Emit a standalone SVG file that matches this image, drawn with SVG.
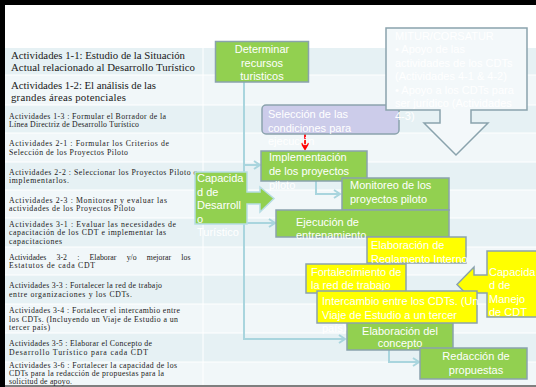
<svg xmlns="http://www.w3.org/2000/svg" width="536" height="387" viewBox="0 0 536 387">
<defs>
<style>
.tl{font-family:"Liberation Serif","DejaVu Serif",serif;fill:#1a1a1a}
.big{font-size:10.8px}
.sm{font-size:7.8px}
.bt{font-family:"Liberation Sans",Arial,sans-serif;font-size:11px;fill:#ffffff}
.mid{text-anchor:middle}
.g{fill:#92d050;stroke:#8aa3ad;stroke-width:1.5}
.y{fill:#ffff00;stroke:#8aa3ad;stroke-width:1.5}
.con{fill:none;stroke:#a9d5de;stroke-width:2}
.teal{fill:#e6f1f4}
.light{fill:#f1f7f9}
.sep{stroke:#ffffff;stroke-width:1}
</style>
<marker id="arr" markerWidth="10" markerHeight="10" refX="8" refY="5" orient="auto" markerUnits="userSpaceOnUse">
<path d="M2,1 L8,5 L2,9" fill="none" stroke="#a9d5de" stroke-width="2"/>
</marker>
<marker id="redarr" markerWidth="10" markerHeight="10" refX="8" refY="5" orient="auto" markerUnits="userSpaceOnUse">
<path d="M2,1.5 L8,5 L2,8.5" fill="none" stroke="#ff0000" stroke-width="1.8"/>
</marker>
</defs>

<rect x="0" y="0" width="536" height="387" fill="#ffffff"/>

<g id="table">
<rect x="5" y="48" width="531" height="27" class="teal"/>
<rect x="5" y="75" width="531" height="30" class="light"/>
<rect x="5" y="105" width="531" height="28" class="teal"/>
<rect x="5" y="133" width="531" height="29" class="light"/>
<rect x="5" y="162" width="531" height="28" class="teal"/>
<rect x="5" y="190" width="531" height="28" class="light"/>
<rect x="5" y="218" width="531" height="29" class="teal"/>
<rect x="5" y="247" width="531" height="28" class="light"/>
<rect x="5" y="275" width="531" height="29" class="teal"/>
<rect x="5" y="304" width="531" height="29" class="light"/>
<rect x="5" y="333" width="531" height="29" class="teal"/>
<rect x="5" y="362" width="531" height="24" class="light"/>
<g class="sep">
<line x1="5" y1="75" x2="536" y2="75"/>
<line x1="5" y1="105" x2="536" y2="105"/>
<line x1="5" y1="133" x2="536" y2="133"/>
<line x1="5" y1="162" x2="536" y2="162"/>
<line x1="5" y1="190" x2="536" y2="190"/>
<line x1="5" y1="218" x2="536" y2="218"/>
<line x1="5" y1="247" x2="536" y2="247"/>
<line x1="5" y1="275" x2="536" y2="275"/>
<line x1="5" y1="304" x2="536" y2="304"/>
<line x1="5" y1="333" x2="536" y2="333"/>
<line x1="5" y1="362" x2="536" y2="362"/>
<line x1="203" y1="48" x2="203" y2="386"/>
</g>
<rect x="5" y="385" width="531" height="2" fill="#7f7f7f"/>

<text class="tl big" x="11" y="59" textLength="174">Actividades 1-1: Estudio de la Situación</text>
<text class="tl big" x="11" y="71" textLength="184">Actual relacionado al Desarrollo Turístico</text>
<text class="tl big" x="11" y="89" textLength="145">Actividades 1-2: El análisis de las</text>
<text class="tl big" x="11" y="101" textLength="115">grandes áreas potenciales</text>
<text class="tl sm" x="9" y="118.5" textLength="157">Actividades 1-3 : Formular el Borrador de la</text>
<text class="tl sm" x="9" y="127" textLength="130">Línea Directriz de Desarrollo Turístico</text>
<text class="tl sm" x="9" y="146" textLength="160">Actividades 2-1 : Formular los Criterios de</text>
<text class="tl sm" x="9" y="154.5" textLength="119">Selección de los Proyectos Piloto</text>
<text class="tl sm" x="9" y="174.5" textLength="188">Actividades 2-2 : Seleccionar los Proyectos Piloto e</text>
<text class="tl sm" x="9" y="183" textLength="60">implementarlos.</text>
<text class="tl sm" x="9" y="202.5" textLength="158">Actividades 2-3 : Monitorear y evaluar las</text>
<text class="tl sm" x="9" y="211" textLength="126">actividades de los Proyectos Piloto</text>
<text class="tl sm" x="9" y="227" textLength="167">Actividades 3-1 : Evaluar las necesidades de</text>
<text class="tl sm" x="9" y="235" textLength="157">capacitación de los CDT e implementar las</text>
<text class="tl sm" x="9" y="243.5" textLength="53">capacitaciones</text>
<text class="tl sm" x="9" y="259.5" word-spacing="8.3">Actividades 3-2 : Elaborar y/o mejorar los</text>
<text class="tl sm" x="9" y="268" textLength="86">Estatutos de cada CDT</text>
<text class="tl sm" x="9" y="288" textLength="153">Actividades 3-3 : Fortalecer la red de trabajo</text>
<text class="tl sm" x="9" y="296.5" textLength="123">entre organizaciones y los CDTs.</text>
<text class="tl sm" x="9" y="313" textLength="171">Actividades 3-4 : Fortalecer el intercambio entre</text>
<text class="tl sm" x="9" y="321.5" textLength="169">los CDTs. (Incluyendo un Viaje de Estudio a un</text>
<text class="tl sm" x="9" y="330" textLength="41">tercer país)</text>
<text class="tl sm" x="9" y="346" textLength="143">Actividades 3-5 : Elaborar el Concepto de</text>
<text class="tl sm" x="9" y="354.5" textLength="139">Desarrollo Turístico para cada CDT</text>
<text class="tl sm" x="9" y="368" textLength="168">Actividades 3-6 : Fortalecer la capacidad de los</text>
<text class="tl sm" x="9" y="376" textLength="155">CDTs para la redacción de propuestas para la</text>
<text class="tl sm" x="9" y="384" textLength="63">solicitud de apoyo.</text>
</g>

<rect x="0" y="0" width="536" height="5" fill="#000000"/>
<rect x="0" y="0" width="5" height="387" fill="#000000"/>

<g id="connectors">
<path class="con" d="M244,82 V339 H345" marker-end="url(#arr)"/>
<path class="con" d="M244,165 H260" marker-end="url(#arr)"/>
<path class="con" d="M244,223 H275" marker-end="url(#arr)"/>
<path class="con" d="M316,181 V194 H340" marker-end="url(#arr)"/>
<path class="con" d="M389,350 V362 H419" marker-end="url(#arr)"/>
<path d="M305,134 V149" fill="none" stroke="#ff0000" stroke-width="1.8" marker-end="url(#redarr)"/>
</g>

<g id="determinar">
<rect x="215.5" y="41.5" width="93" height="40.5" class="g"/>
<text class="bt mid" x="262" y="53">Determinar</text>
<text class="bt mid" x="262" y="67">recursos</text>
<text class="bt mid" x="262" y="80">turisticos</text>
</g>

<g id="seleccion">
<rect x="262" y="105" width="137" height="29" rx="4" fill="#ccccea" stroke="#8aa3ad" stroke-width="1.5"/>
<text class="bt" x="268" y="118">Selección de las</text>
<text class="bt" x="268" y="132">condiciones para</text>
<text class="bt" x="268" y="145">ejecución</text>
</g>

<g id="mitur">
<path d="M386,28 H527 V110 H471 V123 H488 L456,155 L424,123 H440 V110 H386 Z" fill="#f3f8fa" stroke="#8aa3ad" stroke-width="1.5"/>
<text class="bt" x="395" y="40">MITUR/CORSATUR</text>
<text class="bt" x="395" y="53.4">• Apoyo de las</text>
<text class="bt" x="395" y="66.8">actividades de los CDTs</text>
<text class="bt" x="395" y="80.2">(Actividades 4-1 &amp; 4-2)</text>
<text class="bt" x="395" y="93.6">• Apoyo a los CDTs para</text>
<text class="bt" x="395" y="107">ser jurídico (Actividades</text>
<text class="bt" x="395" y="120.4">4-3)</text>
</g>

<g id="implementacion">
<rect x="261" y="151" width="106" height="30" class="g"/>
<text class="bt" x="269" y="161">Implementación</text>
<text class="bt" x="269" y="175">de los proyectos</text>
<text class="bt" x="269" y="188.5">piloto</text>
</g>

<g id="monitoreo">
<rect x="342" y="178" width="107" height="32" class="g"/>
<text class="bt" x="350" y="189">Monitoreo de los</text>
<text class="bt" x="350" y="202.5">proyectos piloto</text>
</g>

<g id="ejecucion">
<rect x="276" y="210" width="173" height="27" class="g"/>
<text class="bt" x="296" y="225.5">Ejecución de</text>
<text class="bt" x="296" y="239">entrenamiento</text>
</g>

<g id="capacidad-desarrollo">
<path d="M195,172 H247 V192 H260 V187 L274,198.5 L260,212 V204 H247 V224 H195 Z" fill="#92d050" stroke="#b7dde3" stroke-width="1.5"/>
<text class="bt" x="197" y="182">Capacida</text>
<text class="bt" x="197" y="195.5">d de</text>
<text class="bt" x="197" y="209">Desarroll</text>
<text class="bt" x="197" y="222.5">o</text>
<text class="bt" x="197" y="236">Turístico</text>
</g>

<g id="concepto">
<rect x="347" y="321" width="106" height="29" class="g"/>
<text class="bt mid" x="400" y="334.5">Elaboración del</text>
<text class="bt mid" x="400" y="347">concepto</text>
</g>

<g id="redaccion">
<rect x="420" y="348" width="107" height="31" class="g"/>
<text class="bt mid" x="476" y="360">Redacción de</text>
<text class="bt mid" x="476" y="373.5">propuestas</text>
</g>

<g id="reglamento">
<rect x="367" y="237" width="99" height="26" class="y"/>
<text class="bt" x="371" y="249">Elaboración de</text>
<text class="bt" x="371" y="262.5">Reglamento Interno</text>
</g>

<g id="fortalecimiento">
<rect x="306" y="264" width="100" height="29" class="y"/>
<text class="bt" x="311" y="275.5">Fortalecimiento de</text>
<text class="bt" x="311" y="288.5">la red de trabajo</text>
</g>

<g id="capacidad-manejo">
<path d="M545,251 H487 V275 H474 V267 L457,284.5 L474,302 V293 H487 V317 H545 Z" class="y"/>
<text class="bt" x="489" y="275.5">Capacida</text>
<text class="bt" x="489" y="289">d de</text>
<text class="bt" x="489" y="302.5">Manejo</text>
<text class="bt" x="489" y="316">de CDT</text>
</g>

<g id="intercambio">
<rect x="317" y="291" width="160" height="32" class="y"/>
<text class="bt" x="322" y="305">Intercambio entre los CDTs. (Un</text>
<text class="bt" x="322" y="318.5">Viaje de Estudio a un tercer</text>
<text class="bt" x="322" y="332">país)</text>
</g>
</svg>
